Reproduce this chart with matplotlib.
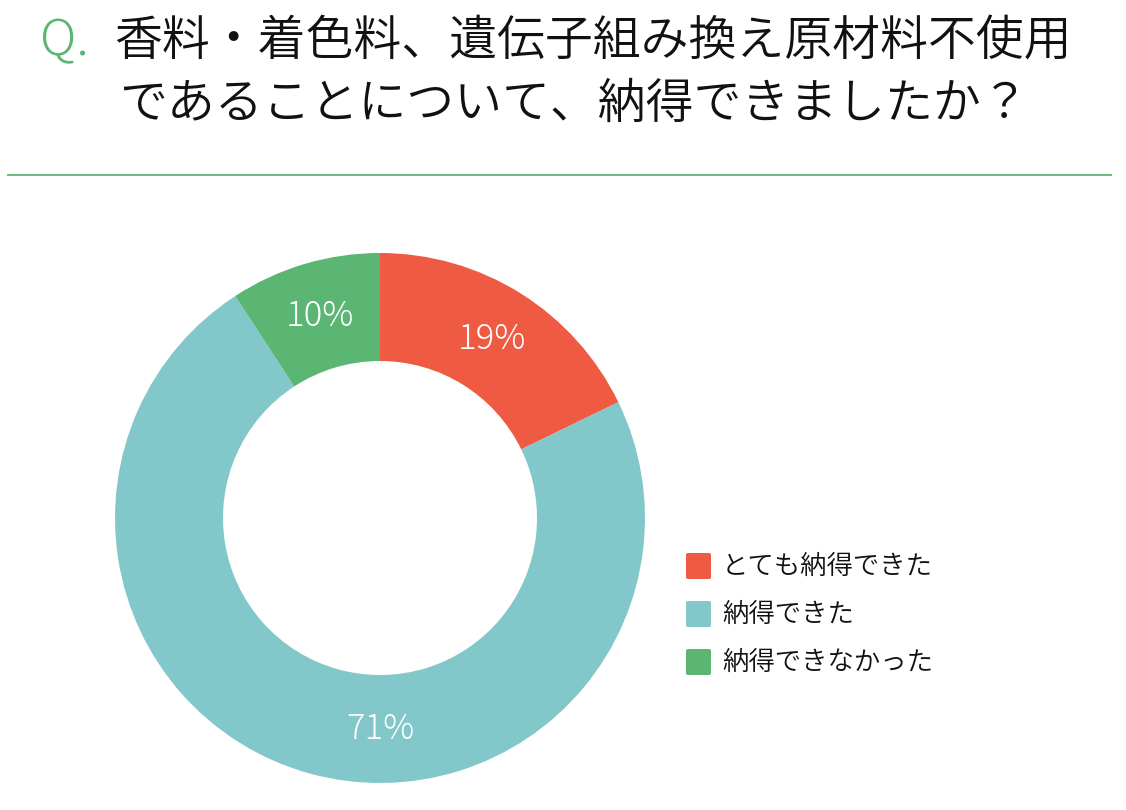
import matplotlib
matplotlib.use("Agg")
import matplotlib.pyplot as plt
from matplotlib.patches import FancyBboxPatch
from matplotlib.lines import Line2D
import numpy as np

plt.rcParams['font.family'] = ['Noto Sans CJK JP', 'DejaVu Sans']

# data
categories = ['とても納得できた', '納得できた', '納得できなかった']
shares = [17.8, 73.0, 9.2]          # slice sizes as drawn
labels = ['19%', '71%', '10%']      # printed labels
label_angles = [32, 180, 343.5]     # degrees clockwise from top, where labels sit
colors = ['#EF5A42', '#82C8CA', '#5BB573']

W, H = 1126, 810
fig = plt.figure(figsize=(W / 100, H / 100), dpi=100)

# title
fig.text(40 / W, 1 - 42 / H, 'Q.', color='#5BB573', fontsize=36, va='center',
         ha='left', fontweight='light')
fig.text(114 / W, 1 - 42 / H, '香料・着色料、遺伝子組み換え原材料不使用',
         color='#111111', fontsize=34.5, va='center', ha='left', fontweight=350)
fig.text(119 / W, 1 - 104 / H, 'であることについて、納得できましたか？',
         color='#111111', fontsize=34.5, va='center', ha='left', fontweight=350)
fig.add_artist(Line2D([8 / W, 1111 / W], [1 - 175 / H, 1 - 175 / H],
                      color='#5BB573', lw=1.3))

# donut
cx, cy, r = 380, 518, 265
ax = fig.add_axes([(cx - r) / W, 1 - (cy + r) / H, 2 * r / W, 2 * r / H])
ax.pie(shares, colors=colors, startangle=90, counterclock=False, radius=1,
       wedgeprops=dict(width=108 / 265, linewidth=0))
ax.set_xlim(-1, 1)
ax.set_ylim(-1, 1)
ax.set_aspect('equal')
ax.axis('off')

lr = (1 + 157 / 265) / 2
for lab, ang in zip(labels, label_angles):
    t = np.deg2rad(ang)
    ax.text(lr * np.sin(t), lr * np.cos(t), lab, color='white', fontsize=25,
            ha='center', va='center', fontweight='light')

# legend
rows_y = [566, 614, 662]
for cat, col, y in zip(categories, colors, rows_y):
    fig.add_artist(FancyBboxPatch((686 / W, 1 - (y + 13) / H), 25 / W, 26 / H,
                                  boxstyle='round,pad=0,rounding_size=0.002',
                                  transform=fig.transFigure, facecolor=col,
                                  edgecolor='none'))
    fig.text(722 / W, 1 - y / H, cat, fontsize=19, color='#111111',
             va='center', ha='left', fontweight=350)

fig.savefig('out.png', dpi=100, facecolor='white')
